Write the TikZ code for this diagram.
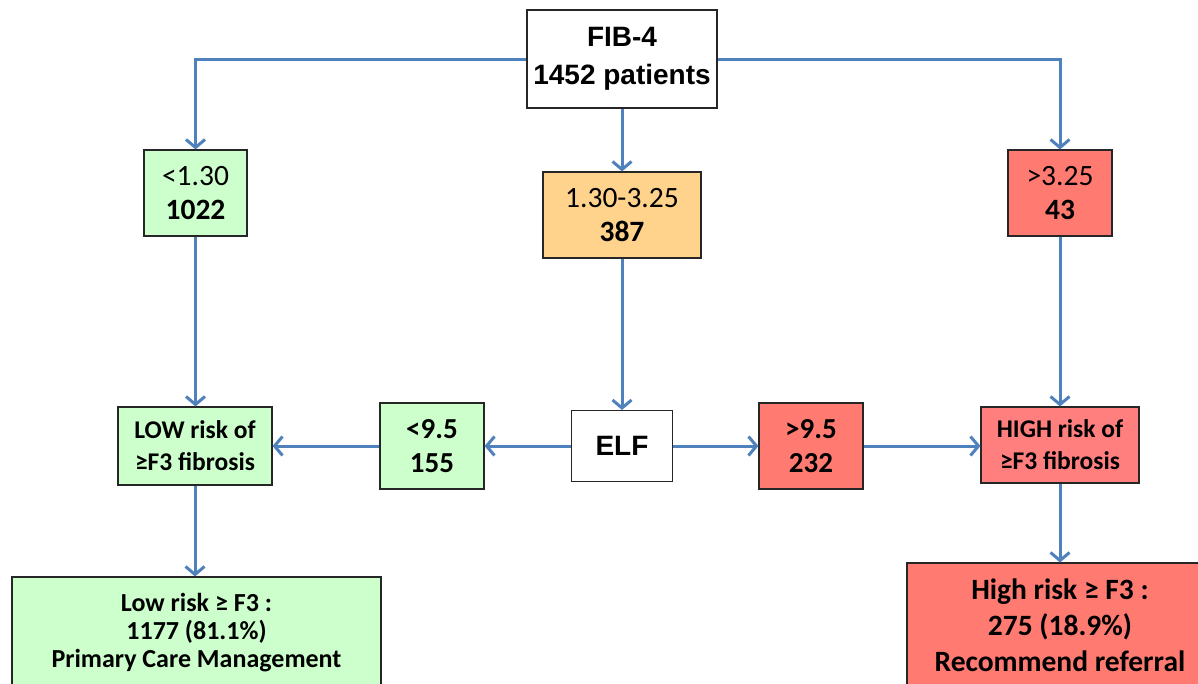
\documentclass[tikz,border=0pt]{standalone}
\usepackage{fontspec}
\setmainfont{Carlito}
\newfontfamily\arialfont{Liberation Sans}
\usetikzlibrary{arrows.meta}
\definecolor{cblue}{HTML}{4F81BD}
\definecolor{lgreen}{HTML}{CCFFCC}
\definecolor{lorange}{HTML}{FFD38C}
\definecolor{lred}{HTML}{FF7B72}
\definecolor{pred}{HTML}{FF7F7F}
\tikzset{
  box/.style={draw=black!85, line width=1.1pt, align=center, inner sep=0pt, text=black},
  conn/.style={draw=cblue, line width=3pt, -{Straight Barb[length=8pt,width=19pt,line width=3pt]}},
}
\begin{document}
\begin{tikzpicture}[x=1pt,y=-1pt]
\useasboundingbox (0,0) rectangle (1198,683);
\fill[white] (0,0) rectangle (1198,683);

% first test
\node[box, fill=white, minimum width=190pt, minimum height=98pt,
      font=\arialfont\bfseries\fontsize{28}{38}\selectfont] (fib) at (622,59) {FIB-4\\1452 patients};

% FIB-4 bands
\node[box, fill=lgreen, minimum width=103pt, minimum height=86pt,
      font=\fontsize{29.5}{34}\selectfont] (lo) at (195.5,193) {<1.30\\\textbf{1022}};
\node[box, fill=lorange, minimum width=158pt, minimum height=86pt,
      font=\fontsize{29.5}{34}\selectfont] (mid) at (622,215) {1.30-3.25\\\textbf{387}};
\node[box, fill=lred, minimum width=104pt, minimum height=86pt,
      font=\fontsize{29.5}{34}\selectfont] (hi) at (1060,193) {>3.25\\\textbf{43}};

% second test
\node[box, fill=white, minimum width=101pt, minimum height=71pt,
      font=\arialfont\bfseries\fontsize{28}{34}\selectfont] (elf) at (622,446) {ELF};
\node[box, fill=lgreen, minimum width=104pt, minimum height=86pt,
      font=\bfseries\fontsize{29}{34}\selectfont] (lt) at (432,446) {<9.5\\155};
\node[box, fill=lred, minimum width=104pt, minimum height=86pt,
      font=\bfseries\fontsize{29}{34}\selectfont] (gt) at (811,446) {>9.5\\232};

% risk categories
\node[box, fill=lgreen, minimum width=154pt, minimum height=78pt,
      font=\bfseries\fontsize{25.5}{32}\selectfont] (low) at (195,446) {LOW risk of\\≥F3 fibrosis};
\node[box, fill=pred, minimum width=158pt, minimum height=76pt,
      font=\bfseries\fontsize{25.5}{32}\selectfont] (high) at (1060,445) {HIGH risk of\\≥F3 fibrosis};

% outcomes
\node[box, fill=lgreen, minimum width=369pt, minimum height=112pt,
      font=\bfseries\fontsize{26}{28}\selectfont] (lowout) at (196.5,633) {Low risk ≥ F3 :\\1177 (81.1\%)\\Primary Care Management};
\node[box, fill=lred, minimum width=306pt, minimum height=124pt,
      font=\bfseries\fontsize{29.5}{36}\selectfont] (highout) at (1060,625) {High risk ≥ F3 :\\275 (18.9\%)\\Recommend referral};

% connectors
\draw[conn] (fib.west) -| (lo.north);
\draw[conn] (fib.east) -| (hi.north);
\draw[conn] (fib.south) -- (mid.north);
\draw[conn] (lo.south) -- (lo.south |- low.north);
\draw[conn] (mid.south) -- (elf.north);
\draw[conn] (hi.south) -- (high.north);
\draw[conn] (elf.west) -- (lt.east);
\draw[conn] (lt.west) -- (lt.west -| low.east);
\draw[conn] (elf.east) -- (gt.west);
\draw[conn] (gt.east) -- (gt.east -| high.west);
\draw[conn] (low.south) -- (low.south |- lowout.north);
\draw[conn] (high.south) -- (high.south |- highout.north);
\end{tikzpicture}
\end{document}
